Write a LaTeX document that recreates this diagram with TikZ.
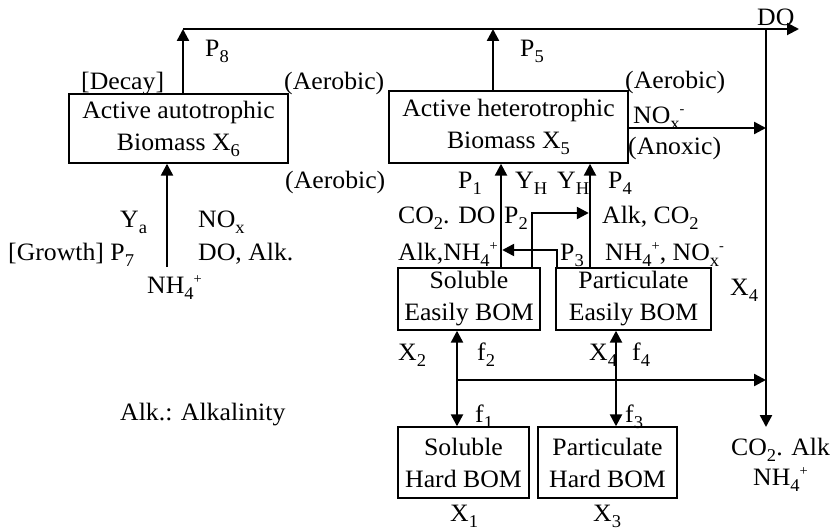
\documentclass[tikz,border=0pt]{standalone}
\usepackage{fontspec}
\setmainfont{Liberation Serif}[FakeStretch=1.03]
\usetikzlibrary{arrows.meta}
\newcommand{\sbs}[1]{\raisebox{-6pt}{\fontsize{18}{18}\selectfont #1}}
\newcommand{\sps}[1]{\raisebox{10pt}{\fontsize{14}{14}\selectfont #1}}
\begin{document}
\begin{tikzpicture}[x=1pt,y=-1pt,
  font=\fontsize{25}{33}\selectfont,
  box/.style={draw, line width=1.4pt, inner sep=0pt, align=center, font=\fontsize{25}{32}\selectfont},
  lbl/.style={anchor=base west, inner sep=0pt},
  arr/.style={line width=2.4pt, -{Triangle[length=12pt,width=12pt]}},
  toparr/.style={line width=2pt, -{Triangle[length=12pt,width=12pt]}}]
\useasboundingbox (0,0) rectangle (830,532);

% boxes
\node[box, minimum width=219pt, minimum height=69pt] (auto) at (178.5,128.5) {Active autotrophic\\Biomass X\sbs{6}};
\node[box, minimum width=239pt, minimum height=72pt] (het) at (508.5,127) {Active heterotrophic\\Biomass X\sbs{5}};
\node[box, minimum width=142pt, minimum height=62pt] (sesy) at (469,299) {Soluble\\Easily BOM};
\node[box, minimum width=155pt, minimum height=62pt] (pesy) at (633.5,299) {Particulate\\Easily BOM};
\node[box, minimum width=131pt, minimum height=71pt] (shard) at (463.5,462.5) {Soluble\\Hard BOM};
\node[box, minimum width=139pt, minimum height=71pt] (phard) at (607.5,462.5) {Particulate\\Hard BOM};

% coordinates
\coordinate (tl) at (183,29);
\coordinate (tr) at (799,29);
\coordinate (p5) at (493,29);
\coordinate (vr) at (766,29);
\coordinate (vb) at (766,427);
\coordinate (nx) at (766,128);
\coordinate (c1) at (501,0);
\coordinate (c2) at (590,0);
\coordinate (p2a) at (532,213);
\coordinate (p3a) at (557,250);
\coordinate (g) at (167,267);
\coordinate (d1) at (457,380);
\coordinate (d2) at (616,380);

% connectors
\draw[toparr] (tl) -- (tr);
\draw[arr] (tl |- auto.north) -- (tl);
\draw[arr] (p5 |- het.north) -- (p5);
\draw[arr] (vr) -- (vb);
\draw[arr] (het.east |- nx) -- (nx);
\draw[arr] (c1 |- sesy.north) -- (c1 |- het.south);
\draw[arr] (c2 |- pesy.north) -- (c2 |- het.south);
\draw[arr, shorten >=1.2pt] (p2a |- sesy.north) -- (p2a) -- (c2 |- p2a);
\draw[arr, shorten >=1.2pt] (p3a |- pesy.north) -- (p3a) -- (c1 |- p3a);
\draw[arr] (g) -- (g |- auto.south);
\draw[arr] (d1) -- (d1 |- sesy.south);
\draw[arr] (d1) -- (d1 |- shard.north);
\draw[arr] (d2) -- (d2 |- pesy.south);
\draw[arr] (d2) -- (d2 |- phard.north);
\draw[arr] (d1) -- (vr |- d1);

% labels
\node[lbl] (lp8) at (205,57) {P\sbs{8}};
\node[lbl] (ldecay) at (81,90) {[Decay]};
\node[lbl] (laer1) at (284,90) {(Aerobic)};
\node[lbl] (lp5) at (520,57) {P\sbs{5}};
\node[lbl] (laer2) at (625,89) {(Aerobic)};
\node[lbl] (lnox) at (633,124) {NO\sbs{x}\sps{-}};
\node[lbl] (lanox) at (628,155) {(Anoxic)};
\node[lbl] (ldo) at (757,26) {DO};
\node[lbl] (laer3) at (285,188) {(Aerobic)};
\node[lbl] (lp1) at (458,188) {P\sbs{1}};
\node[lbl] (lyh1) at (515,188) {Y\sbs{H}};
\node[lbl] (lyh2) at (557,188) {Y\sbs{H}};
\node[lbl] (lp4) at (608,188) {P\sbs{4}};
\node[lbl] (lco2do) at (398,223) {CO\sbs{2}. DO};
\node[lbl] (lp2) at (504,223) {P\sbs{2}};
\node[lbl] (lalkco) at (602,223) {Alk, CO\sbs{2}};
\node[lbl] (lalknh) at (398,260) {Alk,NH\sbs{4}\sps{+}};
\node[lbl] (lp3) at (560,260) {P\sbs{3}};
\node[lbl] (lnhno) at (605,260) {NH\sbs{4}\sps{+}, NO\sbs{x}\sps{-}};
\node[lbl] (lx4a) at (730,295) {X\sbs{4}};
\node[lbl] (lx2) at (398,360) {X\sbs{2}};
\node[lbl] (lf2) at (477,360) {f\sbs{2}};
\node[lbl] (lx4b) at (589,360) {X\sbs{4}};
\node[lbl] (lf4) at (632,360) {f\sbs{4}};
\node[lbl] (lf1) at (475,422) {f\sbs{1}};
\node[lbl] (lf3) at (625,422) {f\sbs{3}};
\node[lbl] (lx1) at (450,521) {X\sbs{1}};
\node[lbl] (lx3) at (593,521) {X\sbs{3}};
\node[lbl] (lco2alk) at (731,455) {CO\sbs{2}. Alk};
\node[lbl] (lnh4b) at (753,485) {NH\sbs{4}\sps{+}};
\node[lbl] (lya) at (120,227) {Y\sbs{a}};
\node[lbl] (lnoxa) at (198,227) {NO\sbs{x}};
\node[lbl] (lgrowth) at (8,260) {[Growth] P\sbs{7}};
\node[lbl] (ldoalk) at (198,260) {DO, Alk.};
\node[lbl] (lnh4a) at (147,293) {NH\sbs{4}\sps{+}};
\node[lbl] (lalkdef) at (120,420) {Alk.: Alkalinity};
\end{tikzpicture}
\end{document}
